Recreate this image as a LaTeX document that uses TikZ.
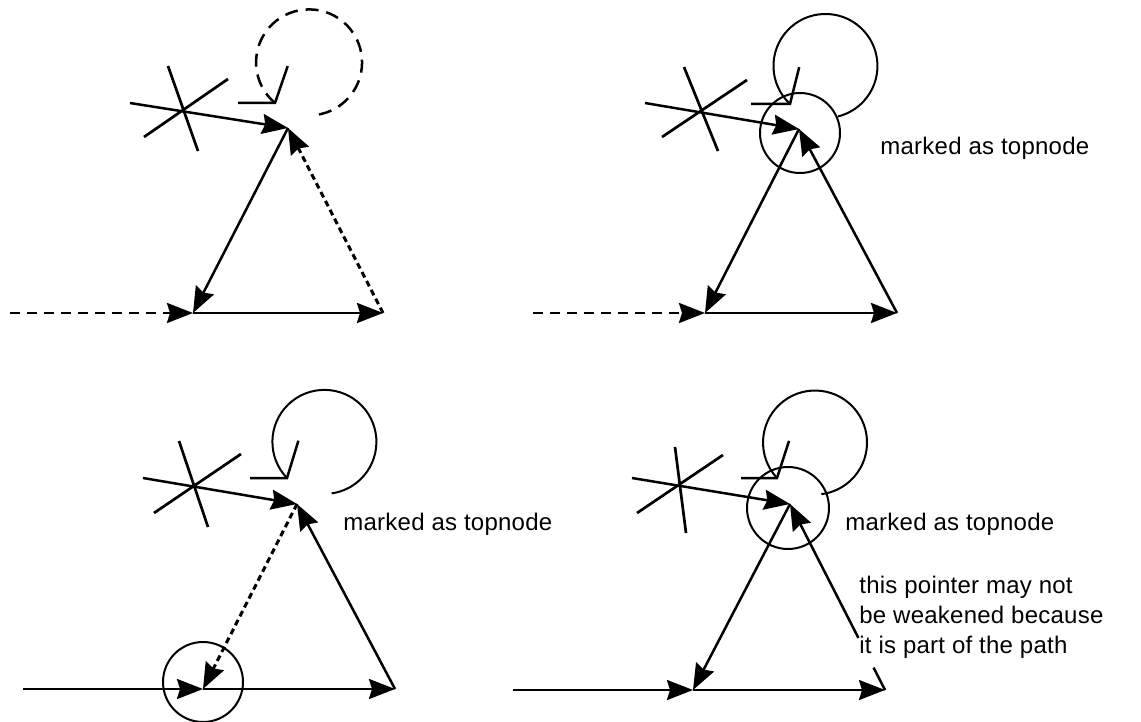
\documentclass[tikz,border=0pt]{standalone}
\usepackage{fontspec}
\setmainfont{Liberation Sans}
\newfontfamily\notefont{Liberation Sans}[LetterSpace=1]
\usetikzlibrary{arrows.meta, calc}

\begin{document}
\begin{tikzpicture}[
    x=0.5pt, y=0.5pt,
    ptr/.style={line width=1.25pt, -{Stealth[length=13pt, width=10pt, inset=1.5pt]}},
    weakptr/.style={ptr, line width=1.5pt, dash pattern=on 3pt off 2pt},
    freeptr/.style={ptr, dash pattern=on 5pt off 3.5pt},
    cross/.style={line width=1.35pt},
    loopline/.style={line width=1pt},
    barb/.style={line width=1.25pt},
    marker/.style={circle, draw, line width=1pt, minimum size=40pt, inner sep=0pt},
    note/.style={font=\notefont\fontsize{12}{15}\selectfont, inner sep=0pt, align=left}
]
\useasboundingbox (0,0) rectangle (1141,-722);

% top left: pointer still weak
\coordinate (s1) at (183,-110);
\coordinate (in1) at (130,-103);
\coordinate (t1) at (288,-128);
\coordinate (b1) at (193,-313);
\coordinate (c1) at (383,-313);
\coordinate (e1) at (10,-313);
\coordinate (l1) at (275,-103);
\draw[cross] (s1) ++(-15,44) -- ++(30,-85);
\draw[cross] (s1) ++(-39,-27) -- ++(84,58);
\draw[ptr] (in1) -- (t1);
\draw[ptr] (t1) -- (b1);
\draw[ptr] (b1) -- (c1);
\draw[weakptr] (c1) -- (t1);
\draw[freeptr] (e1) -- (b1);
\draw[loopline, line width=1.25pt, dash pattern=on 6.5pt off 4pt] (l1) arc[start angle=230, end angle=-82, radius=53];
\draw[barb] (l1) ++(-37,0) -- (l1) -- ++(71:39);

% top right
\coordinate (s2) at (700,-112);
\coordinate (in2) at (645,-103);
\coordinate (t2) at (799,-129);
\coordinate (b2) at (705,-313);
\coordinate (c2) at (897,-313);
\coordinate (e2) at (533,-313);
\coordinate (l2) at (790,-104);
\node[marker] (m2) at (800,-133) {};
\draw[cross] (s2) ++(-16,45) -- ++(34,-84);
\draw[cross] (s2) ++(-38,-25) -- ++(85,57);
\draw[ptr] (in2) -- (t2);
\draw[ptr] (t2) -- (b2);
\draw[ptr] (b2) -- (c2);
\draw[ptr] (c2) -- (t2);
\draw[freeptr] (e2) -- (b2);
\draw[loopline] (l2) arc[start angle=227, end angle=-76, radius=52];
\draw[barb] (l2) ++(-39,0) -- (l2) -- ++(76:38);
\node[note, anchor=base west] (n2) at (880,-155) {marked as topnode};

% bottom left
\coordinate (s3) at (193,-487);
\coordinate (in3) at (143,-478);
\coordinate (t3) at (297,-504);
\coordinate (b3) at (203,-689);
\coordinate (c3) at (395,-689);
\coordinate (e3) at (23,-689);
\coordinate (l3) at (287,-478);
\node[marker] (m3) at (203,-682) {};
\draw[cross] (s3) ++(-14,46) -- ++(29,-86);
\draw[cross] (s3) ++(-39,-26) -- ++(87,59);
\draw[ptr] (in3) -- (t3);
\draw[weakptr] (t3) -- (b3);
\draw[ptr] (b3) -- (c3);
\draw[ptr] (c3) -- (t3);
\draw[ptr] (e3) -- (b3);
\draw[loopline] (l3) arc[start angle=224, end angle=-82, radius=52];
\draw[barb] (l3) ++(-37,0) -- (l3) -- ++(73:39);
\node[note, anchor=base west] (n3) at (343,-530) {marked as topnode};

% bottom right
\coordinate (s4) at (680,-485);
\coordinate (in4) at (632,-478);
\coordinate (t4) at (790,-504);
\coordinate (b4) at (693,-690);
\coordinate (c4) at (885,-690);
\coordinate (e4) at (513,-690);
\coordinate (l4) at (777,-478);
\node[marker, minimum size=41pt] (m4) at (788,-508) {};
\draw[cross] (s4) ++(-5,38) -- ++(11,-86);
\draw[cross] (s4) ++(-43,-28) -- ++(86,58);
\draw[ptr] (in4) -- (t4);
\draw[ptr] (t4) -- (b4);
\draw[ptr] (b4) -- (c4);
\draw[ptr] (e4) -- (b4);
\draw[line width=1.25pt] (c4) -- ($(c4)!0.12!(t4)$);
\draw[ptr] ($(c4)!0.28!(t4)$) -- (t4);
\draw[loopline] (l4) arc[start angle=223, end angle=-83, radius=52];
\draw[barb] (l4) ++(-36,0) -- (l4) -- ++(72:39);
\node[note, anchor=base west] (n4) at (845,-530) {marked as topnode};
\node[note, anchor=north west] (why) at (859,-576) {this pointer may not\\be weakened because\\it is part of the path};

\end{tikzpicture}
\end{document}
